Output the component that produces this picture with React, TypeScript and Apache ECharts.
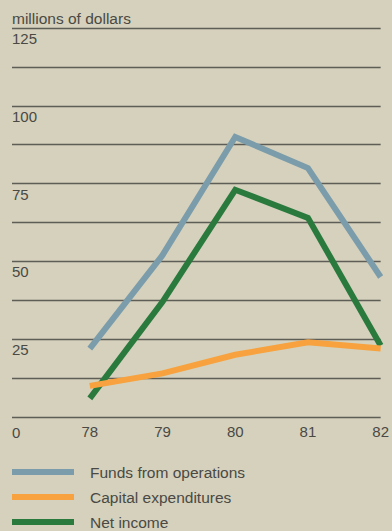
import React, { useEffect, useRef } from "react";
import * as echarts from "echarts";

// Fiscal years (19xx) and the three financial series, millions of dollars
const years = [78, 79, 80, 81, 82];
const fundsFromOperations = [22, 52, 90, 80, 45];
const capitalExpenditures = [10, 14, 20, 24, 22];
const netIncome = [6, 37, 73, 64, 23];

const yTickLabels = [0, 25, 50, 75, 100, 125];
const seriesNames = ["Funds from operations", "Capital expenditures", "Net income"];

const FONT = '"Liberation Sans", Arial, Helvetica, sans-serif';
const INK = "#4a4944";

const pairs = (vals: number[]) => years.map((y, i) => [y, vals[i]]);

export default function App() {
  const ref = useRef<HTMLDivElement>(null);

  useEffect(() => {
    if (!ref.current) return;
    const chart = echarts.init(ref.current, null, { renderer: "svg" });

    const lineSeries = (name: string, vals: number[], color: string) => ({
      name,
      type: "line",
      data: pairs(vals),
      symbol: "none",
      lineStyle: { width: 6, color, cap: "butt", join: "miter" },
      itemStyle: { color },
    });

    chart.setOption({
      animation: false,
      backgroundColor: "#d5d1bc",
      textStyle: { fontFamily: FONT },
      title: {
        text: "millions of dollars",
        left: 12,
        top: 10,
        padding: 0,
        textStyle: { fontFamily: FONT, fontSize: 15.5, fontWeight: "normal", color: INK },
      },
      grid: { left: 12, right: 0, top: 28, bottom: 114, containLabel: false },
      xAxis: {
        type: "value",
        min: 76.93,
        max: 82,
        axisLine: { show: false },
        axisTick: { show: false },
        splitLine: { show: false },
        axisLabel: {
          customValues: years,
          alignMaxLabel: "center",
          margin: 7,
          fontFamily: FONT,
          fontSize: 15,
          color: INK,
        },
      },
      yAxis: {
        type: "value",
        min: 0,
        max: 125,
        interval: 12.5,
        axisLine: { show: false },
        axisTick: { show: false },
        splitLine: { show: true, lineStyle: { color: "#5f5e56", width: 1.3 } },
        axisLabel: {
          customValues: yTickLabels,
          inside: true,
          margin: 0,
          align: "left",
          verticalAlign: "top",
          padding: [3, 0, 0, 0],
          fontFamily: FONT,
          fontSize: 15,
          color: INK,
          formatter: (v: number) => (v === 0 ? "{z|0}" : String(v)),
          rich: {
            z: { fontFamily: FONT, fontSize: 15, color: INK, padding: [5, 0, 0, 0] },
          },
        },
      },
      legend: {
        orient: "vertical",
        left: 12,
        top: 464,
        height: 100,
        padding: 0,
        itemWidth: 62,
        itemHeight: 6,
        itemGap: 9,
        data: seriesNames.map((n) => ({ name: n, icon: "rect" })),
        textStyle: {
          fontFamily: FONT,
          fontSize: 15.5,
          lineHeight: 15,
          color: INK,
          padding: [0, 0, 0, 11],
        },
      },
      series: [
        lineSeries(seriesNames[0], fundsFromOperations, "#7b9caa"),
        lineSeries(seriesNames[2], netIncome, "#2a7a3e"),
        lineSeries(seriesNames[1], capitalExpenditures, "#f7a23e"),
      ],
    });

    return () => chart.dispose();
  }, []);

  return (
    <div
      ref={ref}
      style={{ position: "absolute", left: 0, top: 0, width: 392, height: 531 }}
    />
  );
}
